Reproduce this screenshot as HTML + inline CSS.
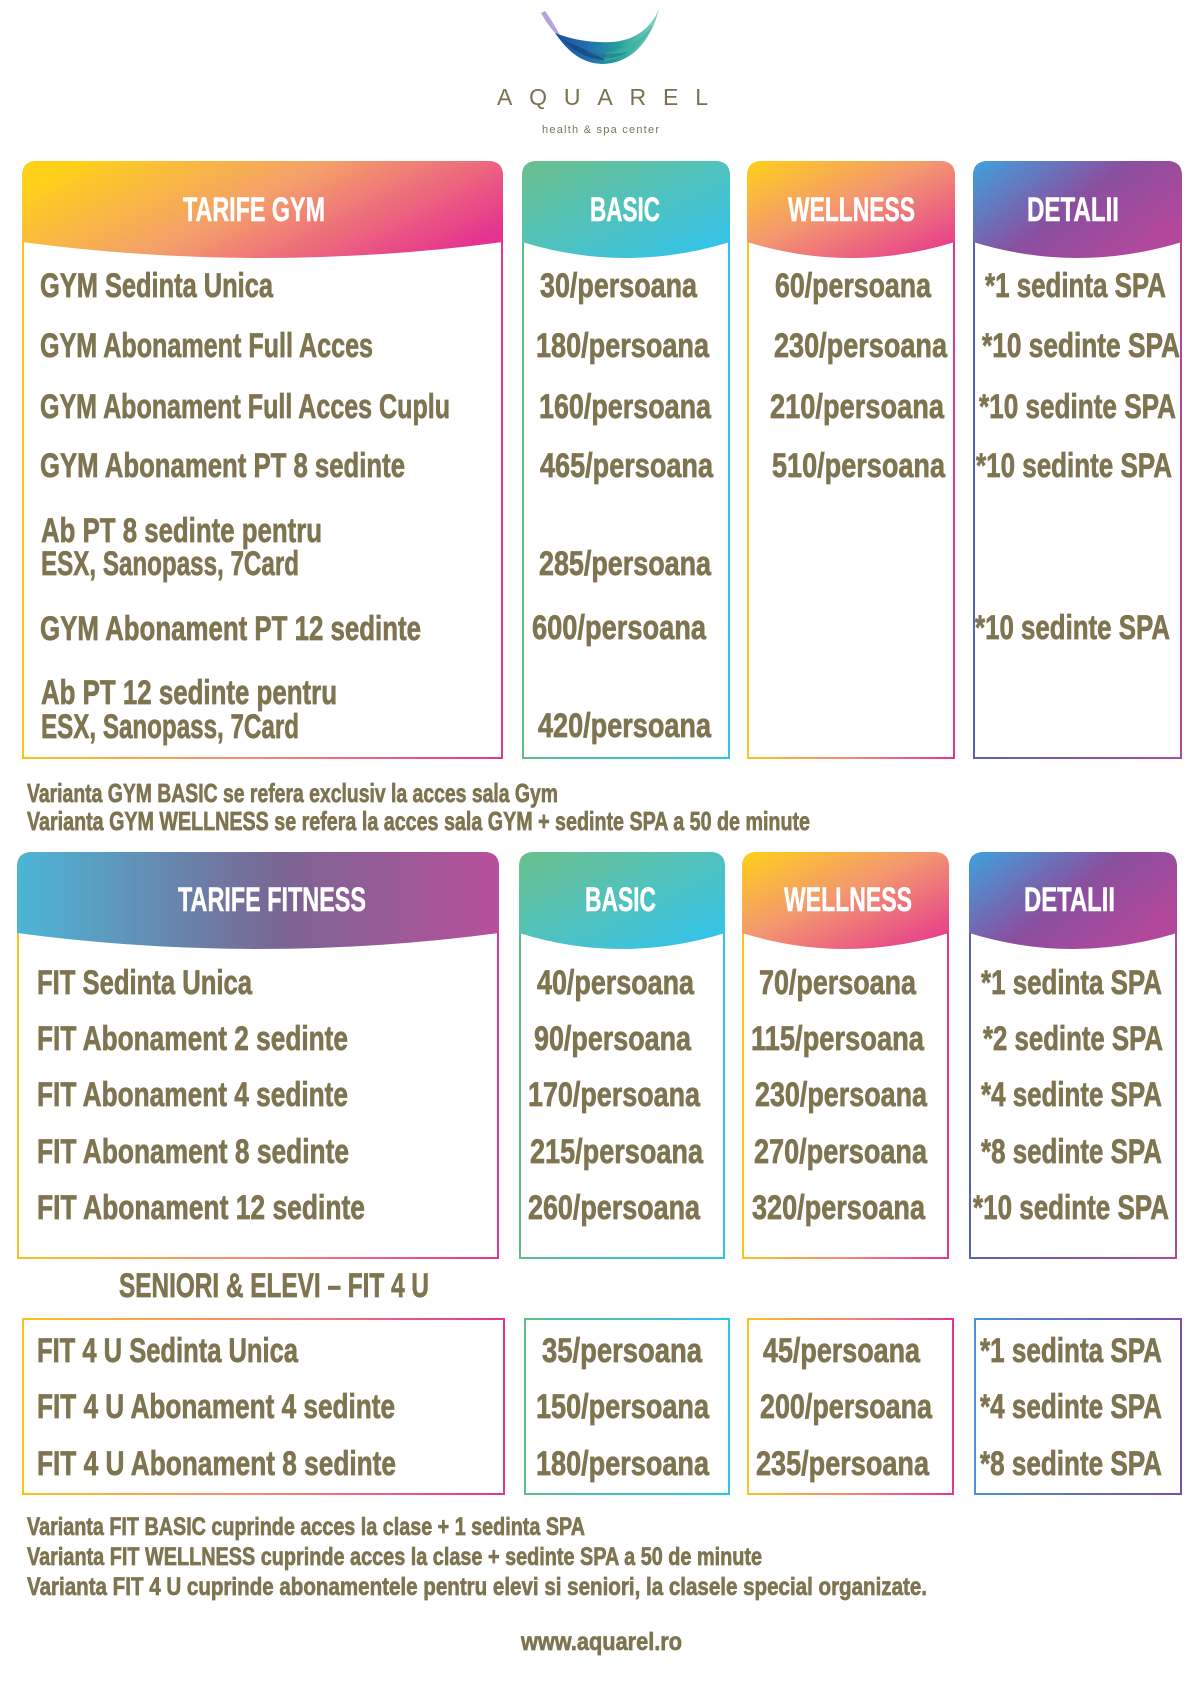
<!DOCTYPE html>
<html><head><meta charset="utf-8"><style>
html,body{margin:0;padding:0;background:#fff;}
svg{display:block;}
.t{font-family:"Liberation Sans",sans-serif;font-weight:bold;fill:#7e7550;stroke:#7e7550;stroke-width:0.7px;}
.h{font-family:"Liberation Sans",sans-serif;font-weight:bold;fill:#fff;stroke:#fff;stroke-width:0.5px;}
</style></head><body>
<svg width="1200" height="1697" viewBox="0 0 1200 1697" xmlns="http://www.w3.org/2000/svg">
<defs>
<linearGradient id="fYPw" x1="0" y1="0.3" x2="1" y2="0.7"><stop offset="0" stop-color="#ffd01a"/><stop offset="0.45" stop-color="#f4a06a"/><stop offset="1" stop-color="#e5338f"/></linearGradient>
<linearGradient id="fYP" x1="0" y1="0" x2="1" y2="1"><stop offset="0" stop-color="#ffd01a"/><stop offset="0.45" stop-color="#f3986f"/><stop offset="1" stop-color="#e5338f"/></linearGradient>
<linearGradient id="fGC" x1="0" y1="0" x2="1" y2="1"><stop offset="0" stop-color="#6bc08b"/><stop offset="0.5" stop-color="#50c2be"/><stop offset="1" stop-color="#2fc4f0"/></linearGradient>
<linearGradient id="fBP" x1="0" y1="0" x2="1" y2="0.6"><stop offset="0" stop-color="#3ea2de"/><stop offset="0.55" stop-color="#8a4f9e"/><stop offset="1" stop-color="#b2489c"/></linearGradient>
<linearGradient id="fFIT" x1="0" y1="0" x2="1" y2="0"><stop offset="0" stop-color="#4cb6d6"/><stop offset="0.55" stop-color="#7a6592"/><stop offset="1" stop-color="#b8509c"/></linearGradient>
<linearGradient id="sYP" x1="0" y1="0" x2="1" y2="0"><stop offset="0" stop-color="#fbc21f"/><stop offset="0.5" stop-color="#f08a78"/><stop offset="1" stop-color="#e4368f"/></linearGradient>
<linearGradient id="sGC" x1="0" y1="0" x2="1" y2="0"><stop offset="0" stop-color="#5fbf8a"/><stop offset="1" stop-color="#2fc3ef"/></linearGradient>
<linearGradient id="sBP" x1="0" y1="0" x2="1" y2="0"><stop offset="0" stop-color="#5b62ad"/><stop offset="1" stop-color="#ad4c9e"/></linearGradient>
<linearGradient id="sBP3" x1="0" y1="0" x2="1" y2="0"><stop offset="0" stop-color="#4a92d8"/><stop offset="1" stop-color="#7d4fa1"/></linearGradient>
<linearGradient id="logoG" x1="0" y1="0" x2="1" y2="0"><stop offset="0" stop-color="#1e4f9e"/><stop offset="0.35" stop-color="#2372b0"/><stop offset="0.6" stop-color="#24a097"/><stop offset="1" stop-color="#7fd5be"/></linearGradient>
</defs>
<rect width="1200" height="1697" fill="#fff"/>

<!-- logo -->
<path d="M541,13 C547,24 554,33 563,40 C557,30 551,19 545,11 Z" fill="#b8a3d8"/>
<path d="M555,33 C567,50 580,63 602,64 C628,64 650,45 659,9 C651,28 636,40 612,42 C592,43 573,40 555,33 Z" fill="url(#logoG)"/>
<path d="M563,40 C576,53 590,60 606,60 C592,53 578,46 563,40 Z" fill="#17407f" opacity="0.7"/>
<path d="M604,61 C625,59 643,45 654,24 C642,40 627,49 606,53 Z" fill="#3bb3a0" opacity="0.6"/>
<path d="M585,52 C600,60 615,60 628,52 C612,55 598,54 585,52 Z" fill="#1f6a8f" opacity="0.5"/>
<text x="497" y="105" textLength="211" lengthAdjust="spacing" style="font-family:'Liberation Sans',sans-serif;font-size:23px;fill:#7a7150;">AQUAREL</text>
<text x="542" y="133" textLength="117" lengthAdjust="spacing" style="font-family:'Liberation Sans',sans-serif;font-size:11px;fill:#7e7550;">health &amp; spa center</text>

<!-- SECTION 1 boxes -->
<g fill="none" stroke-width="2">
<path d="M23,176 Q23,162 37,162 L488,162 Q502,162 502,176 L502,758 L23,758 Z" stroke="url(#sYP)"/>
<path d="M523,176 Q523,162 537,162 L715,162 Q729,162 729,176 L729,758 L523,758 Z" stroke="url(#sGC)"/>
<path d="M748,176 Q748,162 762,162 L940,162 Q954,162 954,176 L954,758 L748,758 Z" stroke="url(#sYP)"/>
<path d="M974,176 Q974,162 988,162 L1167,162 Q1181,162 1181,176 L1181,758 L974,758 Z" stroke="url(#sBP)"/>
</g>
<path d="M22,242 L22,176 Q22,161 37,161 L488,161 Q503,161 503,176 L503,242 Q262.5,274 22,242 Z" fill="url(#fYPw)"/>
<path d="M522,242 L522,176 Q522,161 537,161 L715,161 Q730,161 730,176 L730,242 Q626,274 522,242 Z" fill="url(#fGC)"/>
<path d="M747,242 L747,176 Q747,161 762,161 L940,161 Q955,161 955,176 L955,242 Q851,274 747,242 Z" fill="url(#fYP)"/>
<path d="M973,242 L973,176 Q973,161 988,161 L1167,161 Q1182,161 1182,176 L1182,242 Q1077.5,274 973,242 Z" fill="url(#fBP)"/>

<g class="h" font-size="34">
<text x="183" y="221" textLength="142" lengthAdjust="spacingAndGlyphs">TARIFE GYM</text>
<text x="590" y="221" textLength="70" lengthAdjust="spacingAndGlyphs">BASIC</text>
<text x="788" y="221" textLength="127" lengthAdjust="spacingAndGlyphs">WELLNESS</text>
<text x="1027" y="221" textLength="92" lengthAdjust="spacingAndGlyphs">DETALII</text>
</g>

<g class="t" font-size="34">
<text x="40" y="297" textLength="233" lengthAdjust="spacingAndGlyphs">GYM Sedinta Unica</text>
<text x="40" y="357" textLength="333" lengthAdjust="spacingAndGlyphs">GYM Abonament Full Acces</text>
<text x="40" y="418" textLength="410" lengthAdjust="spacingAndGlyphs">GYM Abonament Full Acces Cuplu</text>
<text x="40" y="477" textLength="365" lengthAdjust="spacingAndGlyphs">GYM Abonament PT 8 sedinte</text>
<text x="41" y="542" textLength="281" lengthAdjust="spacingAndGlyphs">Ab PT 8 sedinte pentru</text>
<text x="41" y="575" textLength="258" lengthAdjust="spacingAndGlyphs">ESX, Sanopass, 7Card</text>
<text x="40" y="640" textLength="381" lengthAdjust="spacingAndGlyphs">GYM Abonament PT 12 sedinte</text>
<text x="41" y="704" textLength="296" lengthAdjust="spacingAndGlyphs">Ab PT 12 sedinte pentru</text>
<text x="41" y="738" textLength="258" lengthAdjust="spacingAndGlyphs">ESX, Sanopass, 7Card</text>

<text x="540" y="297" textLength="157" lengthAdjust="spacingAndGlyphs">30/persoana</text>
<text x="536" y="357" textLength="173" lengthAdjust="spacingAndGlyphs">180/persoana</text>
<text x="539" y="418" textLength="172" lengthAdjust="spacingAndGlyphs">160/persoana</text>
<text x="540" y="477" textLength="173" lengthAdjust="spacingAndGlyphs">465/persoana</text>
<text x="539" y="575" textLength="172" lengthAdjust="spacingAndGlyphs">285/persoana</text>
<text x="532" y="639" textLength="174" lengthAdjust="spacingAndGlyphs">600/persoana</text>
<text x="538" y="737" textLength="173" lengthAdjust="spacingAndGlyphs">420/persoana</text>

<text x="775" y="297" textLength="156" lengthAdjust="spacingAndGlyphs">60/persoana</text>
<text x="774" y="357" textLength="173" lengthAdjust="spacingAndGlyphs">230/persoana</text>
<text x="770" y="418" textLength="174" lengthAdjust="spacingAndGlyphs">210/persoana</text>
<text x="772" y="477" textLength="173" lengthAdjust="spacingAndGlyphs">510/persoana</text>

<text x="985" y="297" textLength="181" lengthAdjust="spacingAndGlyphs">*1 sedinta SPA</text>
<text x="982" y="357" textLength="198" lengthAdjust="spacingAndGlyphs">*10 sedinte SPA</text>
<text x="979" y="418" textLength="197" lengthAdjust="spacingAndGlyphs">*10 sedinte SPA</text>
<text x="976" y="477" textLength="196" lengthAdjust="spacingAndGlyphs">*10 sedinte SPA</text>
<text x="975" y="639" textLength="195" lengthAdjust="spacingAndGlyphs">*10 sedinte SPA</text>
</g>

<g class="t" font-size="26">
<text x="27" y="802" textLength="531" lengthAdjust="spacingAndGlyphs">Varianta GYM BASIC se refera exclusiv la acces sala Gym</text>
<text x="27" y="830" textLength="783" lengthAdjust="spacingAndGlyphs">Varianta GYM WELLNESS se refera la acces sala GYM + sedinte SPA a 50 de minute</text>
</g>

<!-- SECTION 2 boxes -->
<g fill="none" stroke-width="2">
<path d="M18,867 Q18,853 32,853 L484,853 Q498,853 498,867 L498,1258 L18,1258 Z" stroke="url(#sYP)"/>
<path d="M520,867 Q520,853 534,853 L710,853 Q724,853 724,867 L724,1258 L520,1258 Z" stroke="url(#sGC)"/>
<path d="M743,867 Q743,853 757,853 L934,853 Q948,853 948,867 L948,1258 L743,1258 Z" stroke="url(#sYP)"/>
<path d="M970,867 Q970,853 984,853 L1162,853 Q1176,853 1176,867 L1176,1258 L970,1258 Z" stroke="url(#sBP)"/>
</g>
<path d="M17,933 L17,867 Q17,852 32,852 L484,852 Q499,852 499,867 L499,933 Q258,965 17,933 Z" fill="url(#fFIT)"/>
<path d="M519,933 L519,867 Q519,852 534,852 L710,852 Q725,852 725,867 L725,933 Q622,965 519,933 Z" fill="url(#fGC)"/>
<path d="M742,933 L742,867 Q742,852 757,852 L934,852 Q949,852 949,867 L949,933 Q845.5,965 742,933 Z" fill="url(#fYP)"/>
<path d="M969,933 L969,867 Q969,852 984,852 L1162,852 Q1177,852 1177,867 L1177,933 Q1073,965 969,933 Z" fill="url(#fBP)"/>

<g class="h" font-size="34">
<text x="178" y="911" textLength="188" lengthAdjust="spacingAndGlyphs">TARIFE FITNESS</text>
<text x="585" y="911" textLength="71" lengthAdjust="spacingAndGlyphs">BASIC</text>
<text x="784" y="911" textLength="128" lengthAdjust="spacingAndGlyphs">WELLNESS</text>
<text x="1024" y="911" textLength="91" lengthAdjust="spacingAndGlyphs">DETALII</text>
</g>

<g class="t" font-size="34">
<text x="37" y="994" textLength="215" lengthAdjust="spacingAndGlyphs">FIT Sedinta Unica</text>
<text x="37" y="1050" textLength="311" lengthAdjust="spacingAndGlyphs">FIT Abonament 2 sedinte</text>
<text x="37" y="1106" textLength="311" lengthAdjust="spacingAndGlyphs">FIT Abonament 4 sedinte</text>
<text x="37" y="1163" textLength="312" lengthAdjust="spacingAndGlyphs">FIT Abonament 8 sedinte</text>
<text x="37" y="1219" textLength="328" lengthAdjust="spacingAndGlyphs">FIT Abonament 12 sedinte</text>

<text x="537" y="994" textLength="157" lengthAdjust="spacingAndGlyphs">40/persoana</text>
<text x="534" y="1050" textLength="157" lengthAdjust="spacingAndGlyphs">90/persoana</text>
<text x="528" y="1106" textLength="172" lengthAdjust="spacingAndGlyphs">170/persoana</text>
<text x="530" y="1163" textLength="173" lengthAdjust="spacingAndGlyphs">215/persoana</text>
<text x="528" y="1219" textLength="172" lengthAdjust="spacingAndGlyphs">260/persoana</text>

<text x="759" y="994" textLength="157" lengthAdjust="spacingAndGlyphs">70/persoana</text>
<text x="751" y="1050" textLength="173" lengthAdjust="spacingAndGlyphs">115/persoana</text>
<text x="755" y="1106" textLength="172" lengthAdjust="spacingAndGlyphs">230/persoana</text>
<text x="754" y="1163" textLength="173" lengthAdjust="spacingAndGlyphs">270/persoana</text>
<text x="752" y="1219" textLength="173" lengthAdjust="spacingAndGlyphs">320/persoana</text>

<text x="981" y="994" textLength="181" lengthAdjust="spacingAndGlyphs">*1 sedinta SPA</text>
<text x="983" y="1050" textLength="180" lengthAdjust="spacingAndGlyphs">*2 sedinte SPA</text>
<text x="981" y="1106" textLength="181" lengthAdjust="spacingAndGlyphs">*4 sedinte SPA</text>
<text x="981" y="1163" textLength="181" lengthAdjust="spacingAndGlyphs">*8 sedinte SPA</text>
<text x="973" y="1219" textLength="196" lengthAdjust="spacingAndGlyphs">*10 sedinte SPA</text>

<text x="119" y="1297" textLength="310" lengthAdjust="spacingAndGlyphs">SENIORI &amp; ELEVI – FIT 4 U</text>
</g>

<!-- SECTION 3 boxes -->
<g fill="none" stroke-width="2">
<rect x="23" y="1319" width="481" height="175" stroke="url(#sYP)"/>
<rect x="525" y="1319" width="204" height="175" stroke="url(#sGC)"/>
<rect x="748" y="1319" width="205" height="175" stroke="url(#sYP)"/>
<rect x="975" y="1319" width="206" height="175" stroke="url(#sBP3)"/>
</g>

<g class="t" font-size="34">
<text x="37" y="1362" textLength="261" lengthAdjust="spacingAndGlyphs">FIT 4 U Sedinta Unica</text>
<text x="37" y="1418" textLength="358" lengthAdjust="spacingAndGlyphs">FIT 4 U Abonament 4 sedinte</text>
<text x="37" y="1475" textLength="359" lengthAdjust="spacingAndGlyphs">FIT 4 U Abonament 8 sedinte</text>

<text x="542" y="1362" textLength="160" lengthAdjust="spacingAndGlyphs">35/persoana</text>
<text x="536" y="1418" textLength="173" lengthAdjust="spacingAndGlyphs">150/persoana</text>
<text x="536" y="1475" textLength="173" lengthAdjust="spacingAndGlyphs">180/persoana</text>

<text x="763" y="1362" textLength="157" lengthAdjust="spacingAndGlyphs">45/persoana</text>
<text x="760" y="1418" textLength="172" lengthAdjust="spacingAndGlyphs">200/persoana</text>
<text x="756" y="1475" textLength="173" lengthAdjust="spacingAndGlyphs">235/persoana</text>

<text x="980" y="1362" textLength="182" lengthAdjust="spacingAndGlyphs">*1 sedinta SPA</text>
<text x="980" y="1418" textLength="182" lengthAdjust="spacingAndGlyphs">*4 sedinte SPA</text>
<text x="980" y="1475" textLength="182" lengthAdjust="spacingAndGlyphs">*8 sedinte SPA</text>
</g>

<g class="t" font-size="25">
<text x="27" y="1535" textLength="558" lengthAdjust="spacingAndGlyphs">Varianta FIT BASIC cuprinde acces la clase + 1 sedinta SPA</text>
<text x="27" y="1565" textLength="735" lengthAdjust="spacingAndGlyphs">Varianta FIT WELLNESS cuprinde acces la clase + sedinte SPA a 50 de minute</text>
<text x="27" y="1595" textLength="900" lengthAdjust="spacingAndGlyphs">Varianta FIT 4 U cuprinde abonamentele pentru elevi si seniori, la clasele special organizate.</text>
<text x="521" y="1650" textLength="161" lengthAdjust="spacingAndGlyphs">www.aquarel.ro</text>
</g>
</svg>
</body></html>
